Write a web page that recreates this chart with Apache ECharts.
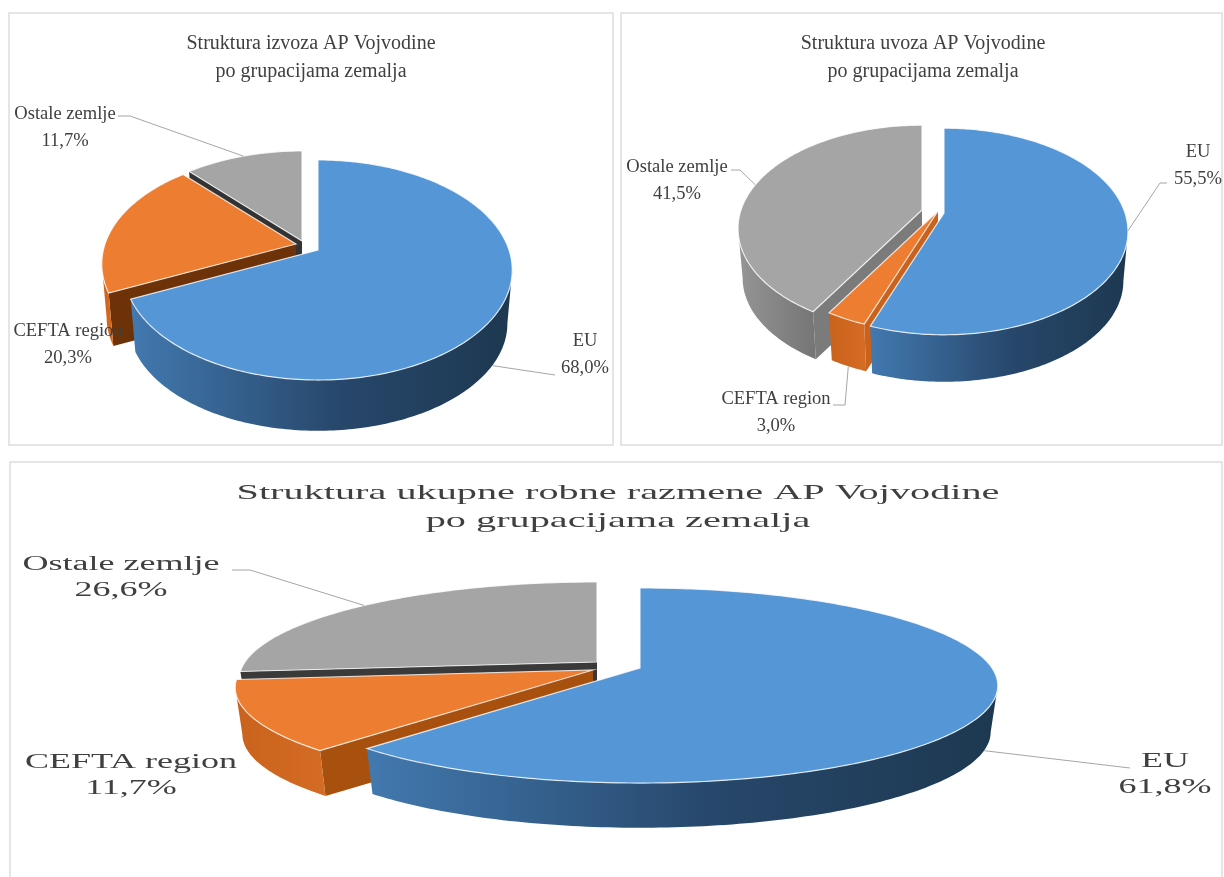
<!DOCTYPE html>
<html>
<head>
<meta charset="utf-8">
<style>
html, body { margin: 0; padding: 0; background: #fff; }
#main { width: 1224px; height: 877px; filter: blur(0.5px); }
</style>
<script src="https://cdn.jsdelivr.net/npm/echarts@6/dist/echarts.min.js"></script>
</head>
<body>
<div id="main"></div>
<script>
var sliceNames = ['EU', 'CEFTA region', 'Ostale zemlje'];
var izvozValues = [68.0, 20.3, 11.7];
var uvozValues = [55.5, 3.0, 41.5];
var ukupnoValues = [61.8, 11.7, 26.6];

var izvozTitle = 'Struktura izvoza AP Vojvodine\npo grupacijama zemalja';
var uvozTitle = 'Struktura uvoza AP Vojvodine\npo grupacijama zemalja';
var ukupnoTitle = 'Struktura ukupne robne razmene AP Vojvodine\npo grupacijama zemalja';

// back to front
var drawOrder = [2, 1, 0];

var topColors = ['#5596d6', '#ed7d31', '#a5a5a5'];

// b / c = vertical and horizontal radius, p = perspective, apex = tip of each slice
var layouts = [
	{
		values: izvozValues, title: izvozTitle, titleAt: [311, 58], titleSize: 20, titleLine: 28, titleScale: 1,
		frame: [9, 13, 604, 432],
		p: 0.1818, b: 106.4, c: 191, depth: 54, shrink: 0.975,
		apex: [[318, 250], [296, 244], [302, 241]],
		cutColors: ['#1e3a56', '#6e3208', '#333333'],
		labelSize: 18, labelLine: 27, labelScale: 1.03,
		labels: [[585, 355], [68, 345], [65, 128]],
		leaders: [[[555, 375]], null, [[118, 116], [130, 116]]]
	},
	{
		values: uvozValues, title: uvozTitle, titleAt: [923, 58], titleSize: 20, titleLine: 28, titleScale: 1,
		frame: [621, 13, 601, 432],
		p: 0.179, b: 100, c: 181, depth: 50, shrink: 0.975,
		apex: [[944, 213], [938, 211], [922, 210]],
		cutColors: ['#1e3a56', '#c9621c', '#7b7b7b'],
		labelSize: 18, labelLine: 27, labelScale: 1.03,
		labels: [[1198, 166], [776, 413], [677, 181]],
		leaders: [[[1167, 183], [1160, 183]], [[833, 405], [845, 405]], [[731, 170], [740, 170]]]
	},
	{
		values: ukupnoValues, title: ukupnoTitle, titleAt: [618, 507], titleSize: 22, titleLine: 28, titleScale: 1.83,
		frame: [10, 462, 1212, 430],
		p: 0.1795, b: 94.4, c: 352, depth: 47, shrink: 0.98,
		apex: [[640, 668], [593, 670], [597, 662]],
		cutColors: ['#1e3a56', '#a8510f', '#3a3a3a'],
		labelSize: 20, labelLine: 26, labelScale: 1.8,
		labels: [[1165, 775], [131, 776], [121, 578]],
		leaders: [[[1130, 768]], null, [[232, 570], [250, 570]]]
	}
];

function wallGradient(i) {
	var stops;
	if (i == 0) {
		stops = [{ offset: 0, color: '#4279af' }, { offset: 0.55, color: '#27476b' }, { offset: 1, color: '#1d3850' }];
	} else if (i == 1) {
		stops = [{ offset: 0, color: '#c9621c' }, { offset: 1, color: '#d56c25' }];
	} else {
		stops = [{ offset: 0, color: '#959595' }, { offset: 1, color: '#757575' }];
	}
	return new echarts.graphic.LinearGradient(0, 0, 1, 0, stops);
}

function makeRenderItem(layout) {
	var total = 0;
	var starts = [];
	for (var k = 0; k < layout.values.length; k++) {
		starts.push(total);
		total += layout.values[k];
	}

	// top rim point for an angle in degrees, clockwise from the back
	function rim(apex, deg) {
		var a = deg * Math.PI / 180;
		var w = 1 + layout.p * Math.cos(a);
		return [apex[0] + layout.c * Math.sin(a) / w, apex[1] - layout.b * Math.cos(a) / w];
	}
	function lower(apex, pt) {
		return [
			apex[0] + (pt[0] - apex[0]) * layout.shrink,
			apex[1] + (pt[1] - apex[1]) * layout.shrink + layout.depth
		];
	}

	return function (params, api) {
		var i = api.value(0);
		var apex = layout.apex[i];
		var t0 = starts[i] / total * 360;
		var t1 = (starts[i] + api.value(1)) / total * 360;
		var children = [];
		var pts, n, d;

		// cut faces that look towards the viewer
		if (Math.sin(t0 * Math.PI / 180) < -0.001) {
			var c0 = rim(apex, t0);
			children.push({
				type: 'polygon',
				shape: { points: [apex, c0, lower(apex, c0), lower(apex, apex)] },
				style: { fill: layout.cutColors[i] }
			});
		}
		if (Math.sin(t1 * Math.PI / 180) > 0.001) {
			var c1 = rim(apex, t1);
			children.push({
				type: 'polygon',
				shape: { points: [apex, c1, lower(apex, c1), lower(apex, apex)] },
				style: { fill: layout.cutColors[i] }
			});
		}

		// outer wall, only the part in front of the silhouette
		var edge = Math.acos(-layout.p) * 180 / Math.PI;
		var w0 = Math.max(t0, edge);
		var w1 = Math.min(t1, 360 - edge);
		if (w1 > w0) {
			var up = [], down = [];
			n = Math.ceil(w1 - w0);
			for (var j = 0; j <= n; j++) {
				d = w0 + (w1 - w0) * j / n;
				up.push(rim(apex, d));
				down.unshift(lower(apex, rim(apex, d)));
			}
			children.push({
				type: 'polygon',
				shape: { points: up.concat(down) },
				style: { fill: wallGradient(i) }
			});
		}

		// top face
		pts = [apex];
		n = Math.ceil(t1 - t0);
		for (var m = 0; m <= n; m++) {
			pts.push(rim(apex, t0 + (t1 - t0) * m / n));
		}
		children.push({
			type: 'polygon',
			shape: { points: pts },
			style: { fill: topColors[i], stroke: 'rgba(255,255,255,0.8)', lineWidth: 1.2 }
		});

		// leader line ends on the rim at the middle of the slice
		if (layout.leaders[i]) {
			var mid = (t0 + t1) / 2;
			var end = rim(apex, mid);
			if (Math.cos(mid * Math.PI / 180) < -layout.p) {
				end = lower(apex, end);
			}
			children.push({
				type: 'polyline',
				shape: { points: layout.leaders[i].concat([end]) },
				style: { fill: null, stroke: '#a6a6a6', lineWidth: 1 }
			});
		}

		children.push({
			type: 'text',
			x: layout.labels[i][0],
			y: layout.labels[i][1],
			scaleX: layout.labelScale,
			style: {
				text: sliceNames[i] + '\n' + api.value(1).toFixed(1).replace('.', ',') + '%',
				font: layout.labelSize + 'px "Liberation Serif"',
				lineHeight: layout.labelLine,
				fill: '#404040',
				align: 'center',
				verticalAlign: 'middle'
			}
		});

		return { type: 'group', children: children };
	};
}

var graphics = [];
var series = [];
for (var g = 0; g < layouts.length; g++) {
	var l = layouts[g];
	graphics.push({
		type: 'rect',
		shape: { x: l.frame[0], y: l.frame[1], width: l.frame[2], height: l.frame[3] },
		style: { fill: '#fff', stroke: '#dddddd', lineWidth: 1.5 }
	});
	graphics.push({
		type: 'text',
		x: l.titleAt[0],
		y: l.titleAt[1],
		scaleX: l.titleScale,
		style: {
			text: l.title,
			font: l.titleSize + 'px "Liberation Serif"',
			lineHeight: l.titleLine,
			fill: '#404040',
			align: 'center',
			verticalAlign: 'middle'
		}
	});

	var rows = [];
	for (var r = 0; r < drawOrder.length; r++) {
		rows.push([drawOrder[r], l.values[drawOrder[r]]]);
	}
	series.push({
		type: 'custom',
		coordinateSystem: 'none',
		silent: true,
		z: 3,
		renderItem: makeRenderItem(l),
		data: rows
	});
}

var myChart = echarts.init(document.getElementById('main'), null, { renderer: 'canvas' });
myChart.setOption({
	backgroundColor: '#fff',
	animation: false,
	graphic: { elements: graphics },
	series: series
});
</script>
</body>
</html>
